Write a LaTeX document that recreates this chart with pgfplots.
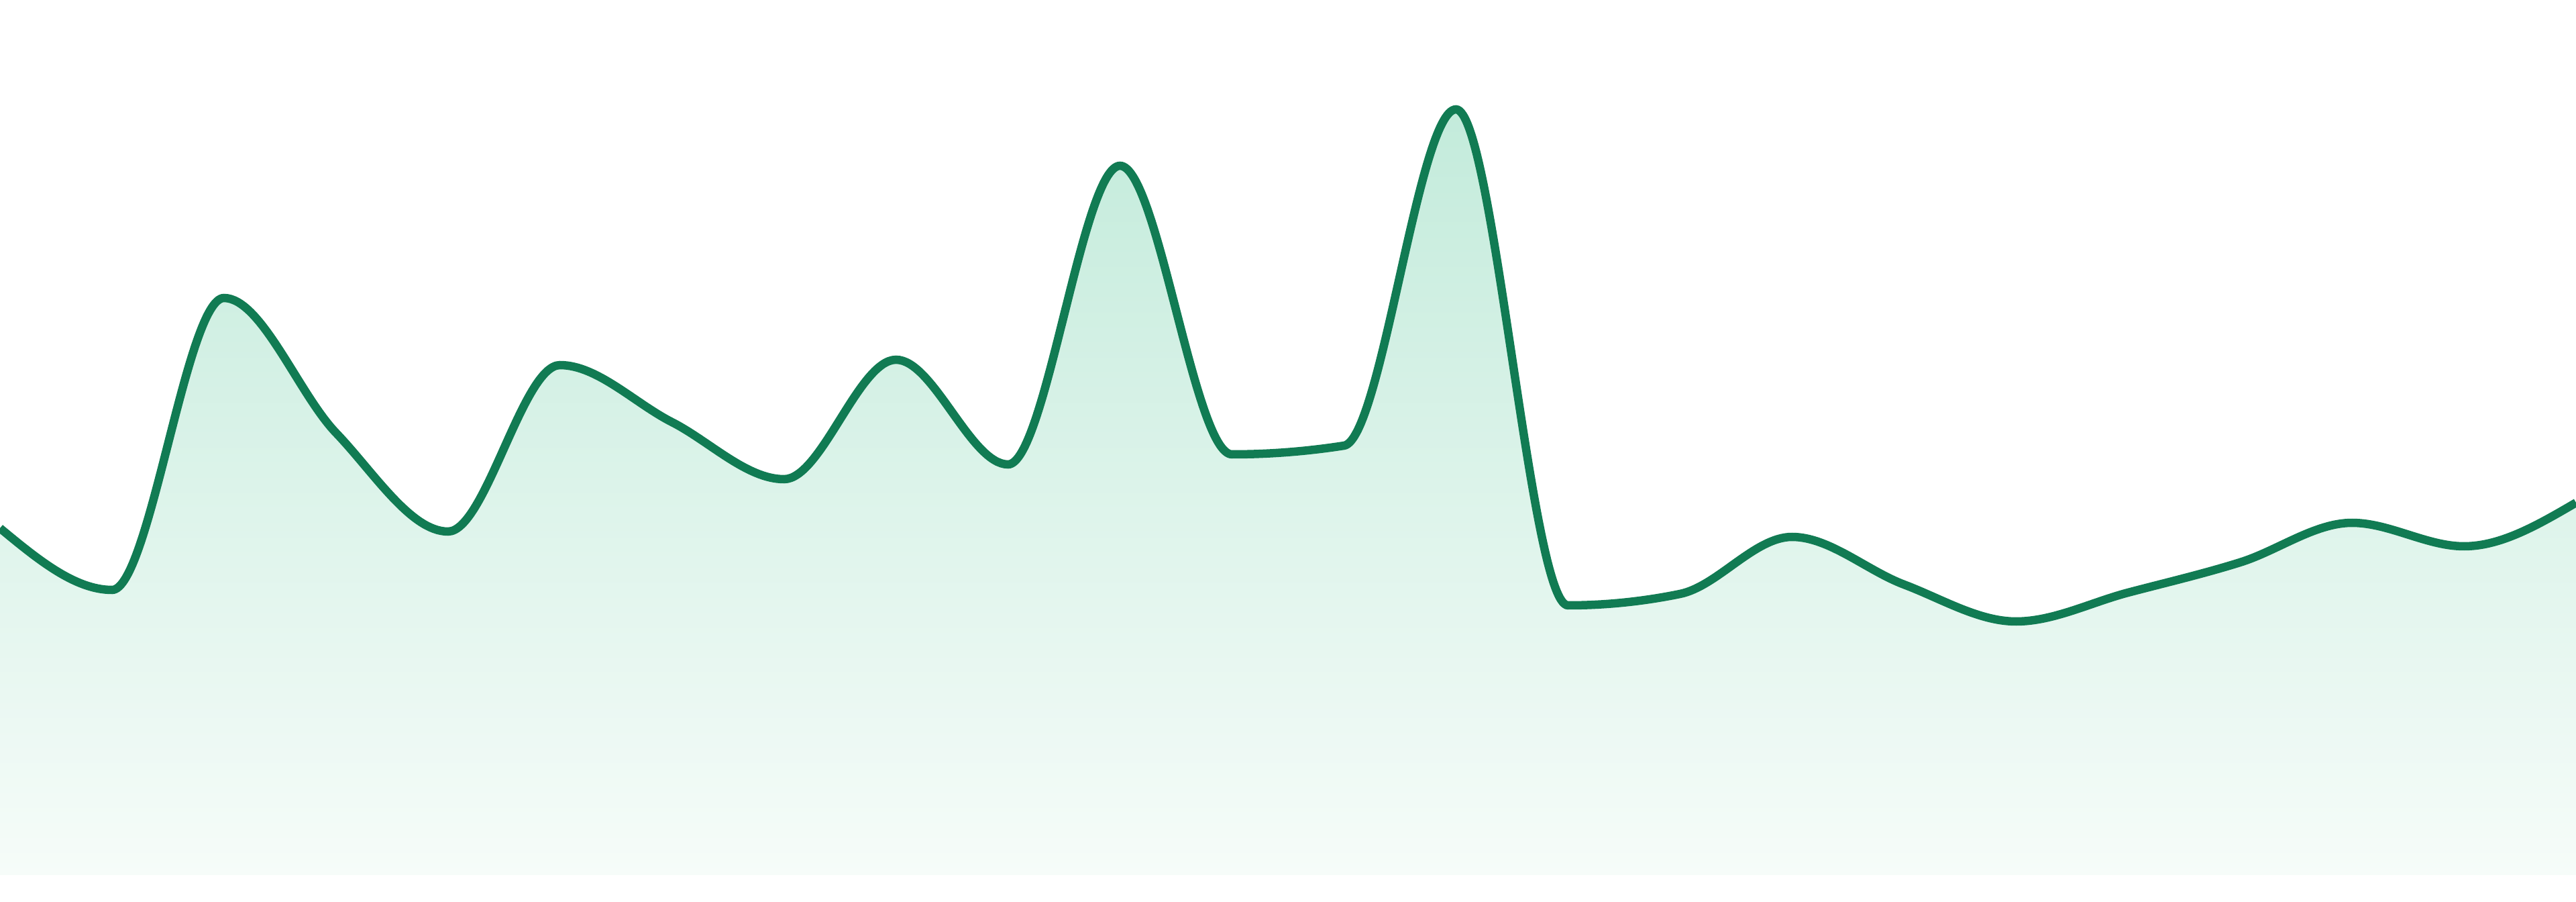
\documentclass[border=0pt]{standalone}
\usepackage{pgfplots}
\usepackage{pgfplotstable}
\pgfplotsset{compat=1.18}
\definecolor{linegreen}{RGB}{17,123,83}
\definecolor{filltop}{RGB}{195,235,219}
\definecolor{fillbot}{RGB}{246,252,249}
\makeatletter
% monotone cubic (d3 monotoneX style) plot handler
\newcount\mono@n
\newcount\mono@i
\def\mono@X#1{\csname mono@x\number#1\endcsname}
\def\mono@Y#1{\csname mono@y\number#1\endcsname}
\def\mono@T#1{\csname mono@t\number#1\endcsname}
\def\pgfplothandlermonotone{%
  \def\pgf@plotstreamstart{%
    \global\mono@n=0
    \global\let\pgf@plotstreampoint=\mono@collect
    \global\let\pgf@plotstreamspecial=\pgfutil@gobble
    \global\let\pgf@plotstreamend=\mono@finish
  }%
}
\def\mono@collect#1{%
  \pgf@process{#1}%
  \global\advance\mono@n by 1
  \expandafter\xdef\csname mono@x\the\mono@n\endcsname{\pgf@sys@tonumber\pgf@x}%
  \expandafter\xdef\csname mono@y\the\mono@n\endcsname{\pgf@sys@tonumber\pgf@y}%
}
\def\mono@finish{%
  \ifnum\mono@n>2
  \begingroup
    \pgfkeys{/pgf/fpu=false}%
    \mono@i=2
    \loop\ifnum\mono@i<\mono@n
      \edef\mono@xa{\mono@X{\numexpr\mono@i-1\relax}}%
      \edef\mono@ya{\mono@Y{\numexpr\mono@i-1\relax}}%
      \edef\mono@xb{\mono@X{\mono@i}}%
      \edef\mono@yb{\mono@Y{\mono@i}}%
      \edef\mono@xc{\mono@X{\numexpr\mono@i+1\relax}}%
      \edef\mono@yc{\mono@Y{\numexpr\mono@i+1\relax}}%
      \pgfmathsetmacro\mono@hA{(\mono@xb)-(\mono@xa)}%
      \pgfmathsetmacro\mono@hB{(\mono@xc)-(\mono@xb)}%
      \pgfmathsetmacro\mono@sA{((\mono@yb)-(\mono@ya))/\mono@hA}%
      \pgfmathsetmacro\mono@sB{((\mono@yc)-(\mono@yb))/\mono@hB}%
      \pgfmathsetmacro\mono@pp{((\mono@sA)*\mono@hB+(\mono@sB)*\mono@hA)/(\mono@hA+\mono@hB)}%
      \pgfmathsetmacro\mono@sg{((\mono@sA)>0)-((\mono@sA)<0)+((\mono@sB)>0)-((\mono@sB)<0)}%
      \pgfmathsetmacro\mono@tv{(\mono@sg)*min(abs(\mono@sA),abs(\mono@sB),0.5*abs(\mono@pp))}%
      \expandafter\xdef\csname mono@t\the\mono@i\endcsname{\mono@tv}%
      \advance\mono@i by 1
    \repeat
    \pgfmathsetmacro\mono@h{(\mono@X{2})-(\mono@X{1})}%
    \pgfmathsetmacro\mono@tv{(3*((\mono@Y{2})-(\mono@Y{1}))/\mono@h-(\mono@T{2}))/2}%
    \expandafter\xdef\csname mono@t1\endcsname{\mono@tv}%
    \edef\mono@last{\the\mono@n}%
    \edef\mono@prev{\number\numexpr\mono@n-1\relax}%
    \pgfmathsetmacro\mono@h{(\mono@X{\mono@last})-(\mono@X{\mono@prev})}%
    \pgfmathsetmacro\mono@tv{(3*((\mono@Y{\mono@last})-(\mono@Y{\mono@prev}))/\mono@h-(\mono@T{\mono@prev}))/2}%
    \expandafter\xdef\csname mono@t\mono@last\endcsname{\mono@tv}%
    \mono@i=1
    \loop\ifnum\mono@i<\mono@n
      \edef\mono@xa{\mono@X{\mono@i}}%
      \edef\mono@ya{\mono@Y{\mono@i}}%
      \edef\mono@ta{\mono@T{\mono@i}}%
      \edef\mono@xb{\mono@X{\numexpr\mono@i+1\relax}}%
      \edef\mono@yb{\mono@Y{\numexpr\mono@i+1\relax}}%
      \edef\mono@tb{\mono@T{\numexpr\mono@i+1\relax}}%
      \pgfmathsetmacro\mono@dx{((\mono@xb)-(\mono@xa))/3}%
      \pgfmathsetmacro\mono@ax{(\mono@xa)+\mono@dx}%
      \pgfmathsetmacro\mono@ay{(\mono@ya)+\mono@dx*(\mono@ta)}%
      \pgfmathsetmacro\mono@bx{(\mono@xb)-\mono@dx}%
      \pgfmathsetmacro\mono@by{(\mono@yb)-\mono@dx*(\mono@tb)}%
      \expandafter\xdef\csname mono@ax\the\mono@i\endcsname{\mono@ax}%
      \expandafter\xdef\csname mono@ay\the\mono@i\endcsname{\mono@ay}%
      \expandafter\xdef\csname mono@bx\the\mono@i\endcsname{\mono@bx}%
      \expandafter\xdef\csname mono@by\the\mono@i\endcsname{\mono@by}%
      \advance\mono@i by 1
    \repeat
  \endgroup
  \pgf@plot@first@action{\pgfqpoint{\mono@X{1}pt}{\mono@Y{1}pt}}%
  \mono@i=1
  \loop\ifnum\mono@i<\mono@n
    \edef\mono@next{\number\numexpr\mono@i+1\relax}%
    \pgfpathcurveto
      {\pgfqpoint{\csname mono@ax\the\mono@i\endcsname pt}{\csname mono@ay\the\mono@i\endcsname pt}}%
      {\pgfqpoint{\csname mono@bx\the\mono@i\endcsname pt}{\csname mono@by\the\mono@i\endcsname pt}}%
      {\pgfqpoint{\mono@X{\mono@next}pt}{\mono@Y{\mono@next}pt}}%
    \advance\mono@i by 1
  \repeat
  \else
    \pgf@plot@first@action{\pgfqpoint{\mono@X{1}pt}{\mono@Y{1}pt}}%
    \ifnum\mono@n>1 \pgfpathlineto{\pgfqpoint{\mono@X{2}pt}{\mono@Y{2}pt}}\fi
  \fi
}
\tikzset{monotone/.code={\let\tikz@plot@handler=\pgfplothandlermonotone}}
\makeatother

\pgfplotstableread{
x y
0 517
167.0 425
333.9 860
500.9 659
667.8 512
834.8 760
1001.7 675
1168.7 590
1335.7 768
1502.6 612
1669.6 1057
1836.5 627
2003.5 640
2170.4 1141
2337.4 402
2504.3 419
2671.3 504
2838.3 433
3005.2 378
3172.2 421
3339.1 466
3506.1 525
3673.0 490
3840 555
}\datatable

\begin{document}
\begin{tikzpicture}
\path[use as bounding box] (0,0) rectangle (384bp,134.4bp);
\begin{axis}[
  at={(0,4bp)}, anchor=south west,
  scale only axis, width=384bp, height=130.4bp,
  xmin=0, xmax=3840, ymin=0, ymax=1304,
  hide axis, clip=true]
\addplot[monotone, draw=none, shade, top color=filltop, bottom color=fillbot, mark=none] table {\datatable} \closedcycle;
\addplot[monotone, color=linegreen, line width=1.25bp, mark=none] table {\datatable};
\end{axis}
\end{tikzpicture}
\end{document}
